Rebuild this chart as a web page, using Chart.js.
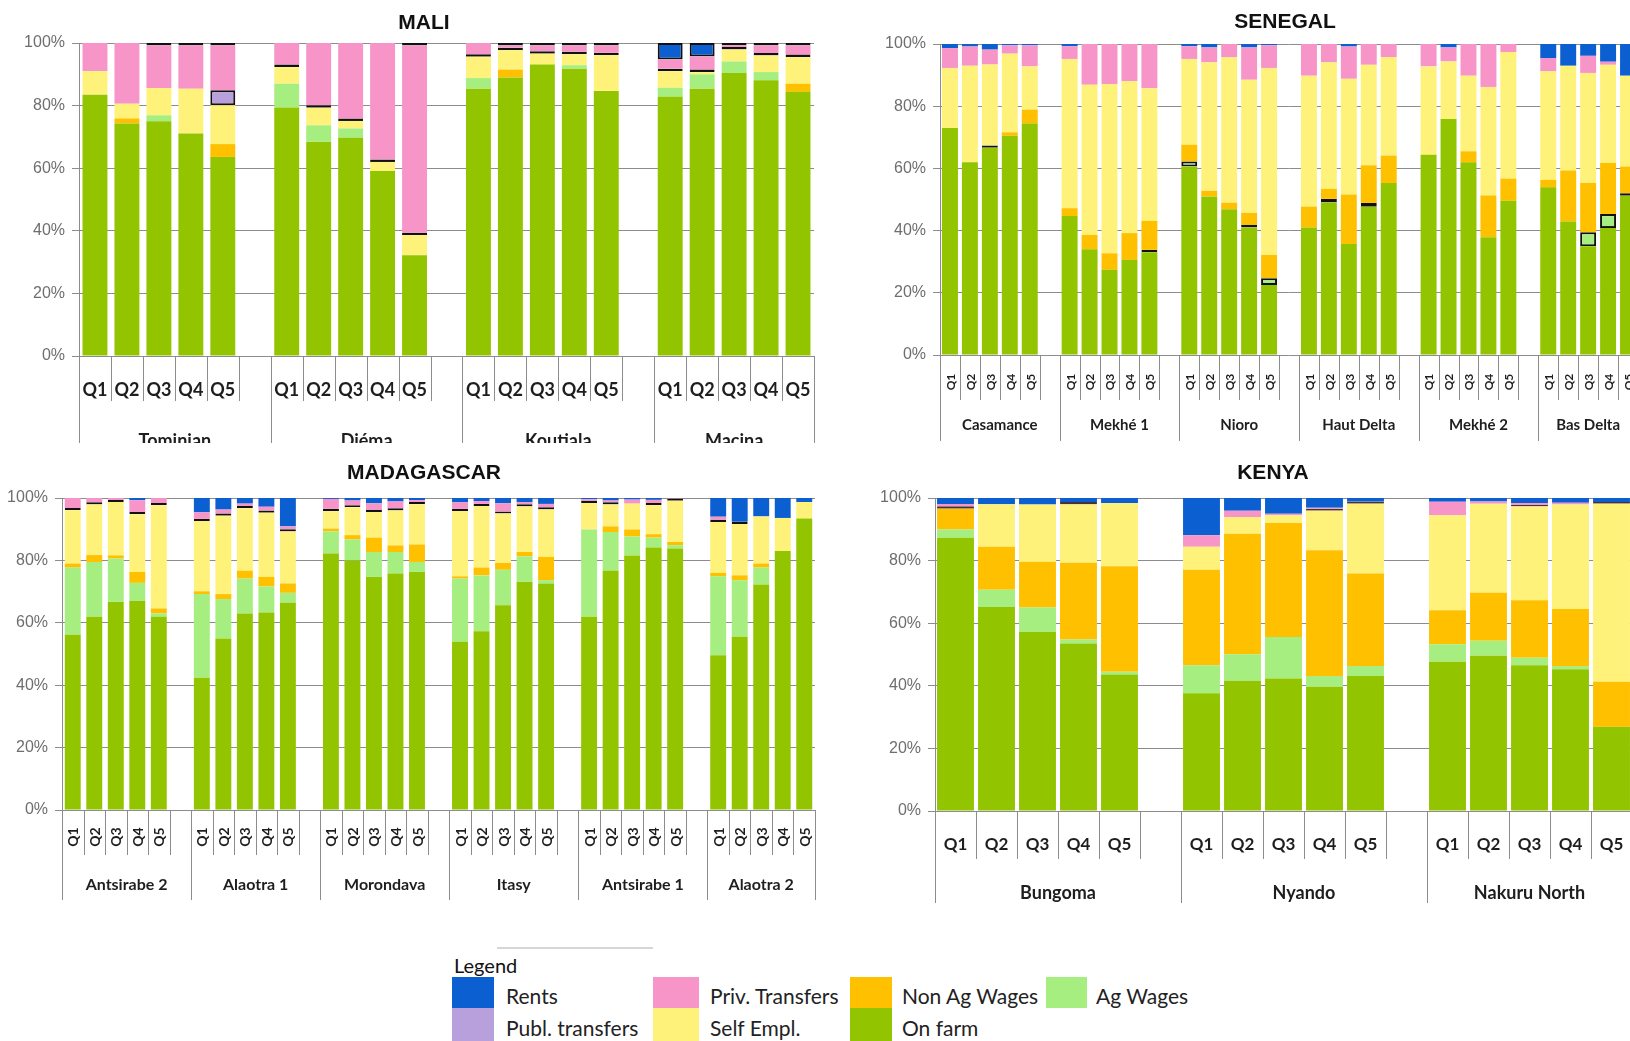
<!DOCTYPE html>
<html>
<head>
<meta charset="utf-8">
<title>Income shares by quintile</title>
<script src="https://cdn.jsdelivr.net/npm/chart.js@4.4.1/dist/chart.umd.min.js"></script>
<style>
  html, body { margin:0; padding:0; background:#fff; }
  body { position:relative; width:1630px; height:1041px; overflow:hidden; }
  canvas { position:absolute; }
  .title { position:absolute; transform:translate(-50%,-50%); font:bold 21px "Liberation Sans", Arial, sans-serif; color:#111; white-space:nowrap; }
  .legend-rule { position:absolute; height:2px; background:#d6d6d6; }
  .legend-head { position:absolute; transform:translateY(-50%); font:20px Lato, sans-serif; color:#111; white-space:nowrap; }
  .swatch { position:absolute; }
  .legend-text { position:absolute; transform:translateY(-50%); font:21px Lato, sans-serif; color:#222; white-space:nowrap; }
</style>
</head>
<body>
<script>
// ---------- categories ----------
const quintiles = ['Q1', 'Q2', 'Q3', 'Q4', 'Q5'];
const seriesLabels = ['On farm', 'Ag Wages', 'Non Ag Wages', 'Self Empl.', 'Publ. transfers', 'Priv. Transfers', 'Rents'];

// ---------- MALI (% of income, per site Q1..Q5) ----------
const maliSites = ['Tominian', 'Diéma', 'Koutiala', 'Macina'];
const maliOnFarm        = [83.5, 74.3, 75.0, 71.1, 63.6,  79.4, 68.4, 69.7, 59.1, 32.2,  85.4, 89.0, 93.1, 91.8, 84.7,  82.8, 85.4, 90.4, 88.1, 84.4];
const maliAgWages       = [0, 0, 1.9, 0, 0,  7.6, 5.3, 3.0, 0, 0,  3.4, 0, 0, 1.1, 0,  2.9, 4.6, 3.7, 2.6, 0];
const maliNonAgWages    = [0, 1.6, 0, 0, 4.1,  0, 0, 0, 0, 0,  0, 2.5, 0, 0, 0,  0, 0, 0, 0, 2.6];
const maliSelfEmpl      = [7.5, 4.7, 8.7, 14.3, 12.4,  5.3, 5.6, 2.4, 2.9, 6.4,  6.8, 6.2, 3.5, 3.5, 11.4,  5.3, 0.7, 3.8, 5.3, 8.5];
const maliPublTransfers = [0, 0, 0, 0, 4.8,  0.8, 0.8, 0.8, 0.8, 0.8,  0.8, 0.8, 0.8, 0.8, 0.8,  0.8, 0.8, 0.8, 0.8, 0.8];
const maliPrivTransfers = [9.0, 19.4, 13.6, 13.8, 14.3,  6.9, 19.9, 24.1, 37.2, 59.8,  3.6, 0.7, 1.8, 2.0, 2.3,  2.9, 4.2, 0.5, 2.4, 2.9];
const maliRents         = [0, 0, 0.8, 0.8, 0.8,  0, 0, 0, 0, 0.8,  0, 0.8, 0.8, 0.8, 0.8,  5.3, 4.3, 0.8, 0.8, 0.8];

// ---------- SENEGAL ----------
const senegalSites = ['Casamance', 'Mekhé 1', 'Nioro', 'Haut Delta', 'Mekhé 2', 'Bas Delta'];
const senOnFarm        = [73.0, 62.0, 66.6, 70.5, 74.4,  44.7, 34.0, 27.4, 30.6, 33.0,  60.6, 51.0, 46.9, 41.0, 22.5,  41.0, 49.0, 35.7, 47.7, 55.3,  64.4, 75.9, 62.0, 37.9, 49.6,  53.9, 42.9, 35.0, 40.8, 51.2];
const senAgWages       = [0, 0, 0.8, 0, 0,  0, 0, 0, 0, 0.8,  1.6, 0, 0, 0.8, 2.2,  0, 1.2, 0, 1.2, 0,  0, 0, 0, 0, 0,  0, 0, 4.5, 4.5, 0.8];
const senNonAgWages    = [0, 0, 0, 1.1, 4.5,  2.5, 4.6, 5.3, 8.6, 9.3,  5.4, 1.8, 2.1, 3.9, 7.5,  6.7, 3.2, 15.9, 12.1, 8.8,  0, 0, 3.5, 13.4, 7.1,  2.4, 16.4, 15.8, 16.4, 8.6];
const senSelfEmpl      = [19.3, 31.0, 26.0, 25.3, 13.9,  48.0, 48.3, 54.4, 48.8, 42.7,  27.6, 41.3, 46.7, 42.8, 60.1,  42.1, 40.7, 37.2, 32.3, 31.7,  28.4, 18.5, 24.3, 34.9, 40.7,  34.9, 33.7, 35.4, 31.6, 29.2];
const senPublTransfers = [0, 0, 0, 0, 0,  0, 0, 0, 0, 0,  0, 0, 0, 0, 0,  0, 0, 0, 0, 0,  0, 0, 0, 0, 0,  0, 0, 0, 0, 0];
const senPrivTransfers = [6.4, 6.2, 4.8, 2.7, 6.8,  4.1, 13.1, 12.9, 12.0, 14.2,  4.1, 4.8, 4.3, 10.4, 7.3,  10.2, 5.9, 10.4, 6.7, 4.2,  7.2, 4.5, 10.2, 13.8, 2.6,  4.3, 0, 5.5, 1.0, 0];
const senRents         = [1.3, 0.8, 1.8, 0.4, 0.4,  0.7, 0, 0, 0, 0,  0.7, 1.1, 0, 1.1, 0.4,  0, 0, 0.8, 0, 0,  0, 1.1, 0, 0, 0,  4.5, 7.0, 3.8, 5.7, 10.2];

// ---------- MADAGASCAR ----------
const madagascarSites = ['Antsirabe 2', 'Alaotra 1', 'Morondava', 'Itasy', 'Antsirabe 1', 'Alaotra 2'];
const madOnFarm        = [56.2, 61.9, 66.7, 67.0, 61.9,  42.4, 55.0, 63.0, 63.3, 66.4,  82.2, 80.0, 74.7, 75.8, 76.3,  53.9, 57.3, 65.6, 73.1, 72.6,  61.9, 76.8, 81.6, 84.1, 83.8,  49.6, 55.5, 72.3, 83.0, 93.4];
const madAgWages       = [21.5, 17.6, 13.9, 5.8, 1.1,  26.8, 12.6, 11.2, 8.4, 3.2,  7.1, 6.7, 8.0, 6.9, 3.2,  20.3, 17.9, 11.4, 8.2, 1.1,  28.0, 12.3, 6.1, 3.2, 1.1,  25.3, 18.1, 5.4, 0, 0];
const madNonAgWages    = [1.3, 2.2, 1.0, 3.5, 1.6,  0.9, 1.6, 2.5, 3.0, 3.0,  0.9, 1.4, 4.6, 2.1, 5.6,  0.7, 2.5, 2.2, 1.4, 7.4,  0, 1.8, 2.2, 1.1, 1.0,  1.1, 1.6, 1.3, 0, 0];
const madSelfEmpl      = [17.1, 16.2, 17.1, 18.5, 33.1,  22.5, 25.1, 20.0, 20.6, 16.7,  5.6, 8.9, 8.2, 11.2, 12.9,  20.9, 19.7, 15.8, 14.6, 15.2,  8.5, 7.0, 8.3, 9.3, 13.2,  16.3, 16.5, 15.1, 10.6, 5.3];
const madPublTransfers = [0.7, 0.7, 0.7, 0.7, 0.7,  0.7, 0.7, 0.7, 0.7, 0.7,  0.7, 0.7, 0.7, 0.7, 0.7,  0.7, 0.7, 0.7, 0.7, 0.7,  0.7, 0.7, 0, 0.7, 0.7,  0.7, 0.7, 0, 0, 0];
const madPrivTransfers = [3.2, 1.4, 0.6, 3.8, 1.6,  2.1, 1.3, 0.8, 1.2, 0.9,  3.2, 1.5, 2.1, 2.2, 0.6,  2.1, 0.9, 2.6, 0.7, 1.1,  0.5, 0.6, 1.3, 1.0, 0.2,  1.0, 0, 0, 0, 0];
const madRents         = [0, 0, 0, 0.7, 0,  4.6, 3.7, 1.8, 2.8, 9.1,  0.3, 0.8, 1.7, 1.1, 0.7,  1.4, 1.0, 1.7, 1.3, 1.9,  0.4, 0.8, 0.5, 0.6, 0,  6.0, 7.6, 5.9, 6.4, 1.3];

// ---------- KENYA ----------
const kenyaSites = ['Bungoma', 'Nyando', 'Nakuru North'];
const kenOnFarm        = [87.3, 65.2, 57.2, 53.5, 43.6,  37.6, 41.6, 42.3, 39.7, 43.1,  47.7, 49.6, 46.6, 45.3, 26.9];
const kenAgWages       = [2.6, 5.5, 7.8, 1.3, 0.9,  9.0, 8.5, 13.3, 3.4, 3.2,  5.6, 4.8, 2.4, 1.0, 0];
const kenNonAgWages    = [6.7, 13.7, 14.6, 24.5, 33.7,  30.5, 38.5, 36.4, 40.2, 29.6,  10.8, 15.3, 18.3, 18.2, 14.4];
const kenSelfEmpl      = [0, 13.6, 18.3, 18.6, 20.2,  7.3, 5.3, 2.5, 12.6, 22.3,  30.4, 28.5, 30.0, 33.4, 56.9];
const kenPublTransfers = [0.8, 0, 0, 0.8, 0,  0, 0, 0, 0.7, 0.7,  0, 0, 0.5, 0, 0.5];
const kenPrivTransfers = [0.7, 0, 0, 0, 0,  3.7, 2.0, 0.5, 0.3, 0,  4.3, 0.7, 0.6, 0.6, 0];
const kenRents         = [1.9, 2.0, 2.1, 1.3, 1.6,  11.9, 4.1, 5.0, 3.1, 1.1,  1.2, 1.1, 1.6, 1.5, 1.3];

// ---------- styling ----------
const seriesColors = ['#92c500', '#a6ee80', '#ffc000', '#fff27a', '#b8a0dc', '#f795c9', '#0c5fd0'];
const lineGrey = '#8c8c8c';

// Category list: five quintiles per site, an empty slot between sites
function buildCategories(sites) {
  const labels = [], groups = [];
  sites.forEach((s, i) => {
    const last = i === sites.length - 1;
    quintiles.forEach(q => labels.push(q));
    if (!last) labels.push('');
    groups.push({ name: s, slots: last ? 5 : 6 });
  });
  return { labels, groups };
}
function spread(values, sites) {
  const out = [];
  sites.forEach((s, i) => {
    for (let k = 0; k < quintiles.length; k++) out.push(values[i * quintiles.length + k]);
    if (i < sites.length - 1) out.push(null);
  });
  return out;
}

// Two-level category axis (quintile row + site row with separators)
const groupedAxis = {
  id: 'groupedAxis',
  afterDraw(chart, _args, o) {
    const { ctx, chartArea } = chart;
    const xs = chart.scales.x;
    const labels = chart.data.labels;
    const half = (xs.getPixelForValue(1) - xs.getPixelForValue(0)) / 2;
    const base = chartArea.bottom;
    const crisp = v => Math.round(v) + 0.5;
    ctx.save();
    ctx.strokeStyle = lineGrey;
    ctx.lineWidth = 1;
    const vline = (px, len) => {
      ctx.beginPath(); ctx.moveTo(crisp(px), base); ctx.lineTo(crisp(px), base + len); ctx.stroke();
    };
    ctx.fillStyle = '#1e1e1e';
    ctx.textAlign = 'center';
    ctx.textBaseline = 'middle';
    let idx = 0;
    o.groups.forEach(g => {
      const start = xs.getPixelForValue(idx) - half;
      const end = xs.getPixelForValue(idx + g.slots - 1) + half;
      vline(start, o.groupSep);
      for (let k = 1; k < g.slots; k++) vline(xs.getPixelForValue(idx + k) - half, o.qSep);
      ctx.font = o.qFont;
      for (let k = 0; k < g.slots; k++) {
        const lab = labels[idx + k];
        if (!lab) continue;
        const cx = xs.getPixelForValue(idx + k);
        const cy = base + o.qOffset;
        if (o.rotate) {
          ctx.save(); ctx.translate(cx, cy); ctx.rotate(-Math.PI / 2); ctx.fillText(lab, 0, 1); ctx.restore();
        } else {
          ctx.fillText(lab, cx, cy);
        }
      }
      ctx.font = o.groupFont;
      ctx.fillText(g.name, (start + end) / 2, base + o.groupOffset);
      idx += g.slots;
    });
    vline(xs.getPixelForValue(idx - 1) + half, o.groupSep);
    ctx.restore();
  }
};

const panels = [
  { title: 'MALI', titleAt: [424, 22], sites: maliSites,
    series: [maliOnFarm, maliAgWages, maliNonAgWages, maliSelfEmpl, maliPublTransfers, maliPrivTransfers, maliRents],
    outline: [4, 6], outlineColor: '#111', outlineWidth: 2,
    box: { left: 0, top: 0, width: 830, height: 443 }, plot: { left: 79, top: 43, right: 814, bottom: 356 },
    barPct: 0.78, axis: { rotate: false, qFont: 'bold 18px Lato', qOffset: 34, qSep: 45, groupFont: 'bold 18px Lato', groupOffset: 85, groupSep: 87 } },
  { title: 'SENEGAL', titleAt: [1285, 21], sites: senegalSites,
    series: [senOnFarm, senAgWages, senNonAgWages, senSelfEmpl, senPublTransfers, senPrivTransfers, senRents],
    outline: [1], outlineColor: '#111', outlineWidth: 2,
    box: { left: 860, top: 0, width: 800, height: 445 }, plot: { left: 940, top: 44, right: 1638, bottom: 355 },
    barPct: 0.8, axis: { rotate: true, qFont: 'bold 12px Lato', qOffset: 27, qSep: 45, groupFont: 'bold 15px Lato', groupOffset: 70, groupSep: 86 } },
  { title: 'MADAGASCAR', titleAt: [424, 472], sites: madagascarSites,
    series: [madOnFarm, madAgWages, madNonAgWages, madSelfEmpl, madPublTransfers, madPrivTransfers, madRents],
    outline: [4], outlineColor: '#111', outlineWidth: 2,
    box: { left: 0, top: 450, width: 830, height: 455 }, plot: { left: 62, top: 498, right: 815, bottom: 810 },
    barPct: 0.74, axis: { rotate: true, qFont: 'bold 14px Lato', qOffset: 27, qSep: 45, groupFont: 'bold 16px Lato', groupOffset: 75, groupSep: 90 } },
  { title: 'KENYA', titleAt: [1273, 472], sites: kenyaSites,
    series: [kenOnFarm, kenAgWages, kenNonAgWages, kenSelfEmpl, kenPublTransfers, kenPrivTransfers, kenRents],
    outline: [4], outlineColor: '#4a3232', outlineWidth: 2,
    box: { left: 860, top: 450, width: 800, height: 460 }, plot: { left: 935, top: 498, right: 1632, bottom: 811 },
    barPct: 0.9, axis: { rotate: false, qFont: 'bold 17px Lato', qOffset: 34, qSep: 48, groupFont: 'bold 18px Lato', groupOffset: 82, groupSep: 92 } }
];

function makePanel(p) {
  const cat = buildCategories(p.sites);
  const canvas = document.createElement('canvas');
  canvas.width = p.box.width;
  canvas.height = p.box.height;
  canvas.style.left = p.box.left + 'px';
  canvas.style.top = p.box.top + 'px';
  document.body.appendChild(canvas);

  const title = document.createElement('div');
  title.className = 'title';
  title.textContent = p.title;
  title.style.left = p.titleAt[0] + 'px';
  title.style.top = p.titleAt[1] + 'px';
  document.body.appendChild(title);

  const datasets = seriesLabels.map((label, i) => {
    const outlined = p.outline.includes(i);
    return {
      label,
      data: spread(p.series[i], p.sites),
      backgroundColor: seriesColors[i],
      borderColor: p.outlineColor,
      borderWidth: c => (outlined && c.raw > 0) ? p.outlineWidth : 0,
      borderSkipped: false,
      barPercentage: p.barPct,
      categoryPercentage: 1,
      stack: 'income'
    };
  });

  new Chart(canvas, {
    type: 'bar',
    data: { labels: cat.labels, datasets },
    options: {
      responsive: false,
      animation: false,
      devicePixelRatio: 1,
      layout: { padding: { top: p.plot.top - p.box.top, right: p.box.left + p.box.width - p.plot.right, left: 0, bottom: 0 } },
      plugins: {
        legend: { display: false },
        tooltip: { enabled: false },
        groupedAxis: Object.assign({ groups: cat.groups }, p.axis)
      },
      scales: {
        x: {
          stacked: true, offset: true,
          grid: { display: false }, border: { display: false }, ticks: { display: false },
          afterFit: s => { s.height = p.box.top + p.box.height - p.plot.bottom; }
        },
        y: {
          stacked: true, min: 0, max: 100,
          grid: { color: lineGrey, tickLength: 7 },
          border: { color: lineGrey },
          ticks: {
            stepSize: 20, padding: 7, color: '#6e6e6e',
            font: { family: "'Liberation Sans', Arial, sans-serif", size: 16 },
            callback: v => v + '%'
          },
          afterFit: s => { s.width = p.plot.left - p.box.left; }
        }
      }
    },
    plugins: [groupedAxis]
  });
}
panels.forEach(makePanel);

// ---------- shared legend ----------
const legendLayout = [
  { series: 6, left: 452, top: 977, w: 42, h: 31, textLeft: 506 },
  { series: 4, left: 452, top: 1008, w: 42, h: 33, textLeft: 506 },
  { series: 5, left: 653, top: 977, w: 46, h: 31, textLeft: 710 },
  { series: 3, left: 653, top: 1008, w: 46, h: 33, textLeft: 710 },
  { series: 2, left: 850, top: 977, w: 42, h: 31, textLeft: 902 },
  { series: 0, left: 850, top: 1008, w: 42, h: 33, textLeft: 902 },
  { series: 1, left: 1046, top: 977, w: 41, h: 31, textLeft: 1096 }
];
(function drawLegend() {
  const rule = document.createElement('div');
  rule.className = 'legend-rule';
  Object.assign(rule.style, { left: '497px', top: '947px', width: '156px' });
  document.body.appendChild(rule);
  const head = document.createElement('div');
  head.className = 'legend-head';
  head.textContent = 'Legend';
  Object.assign(head.style, { left: '454px', top: '965px' });
  document.body.appendChild(head);
  legendLayout.forEach(it => {
    const sw = document.createElement('div');
    sw.className = 'swatch';
    Object.assign(sw.style, { left: it.left + 'px', top: it.top + 'px', width: it.w + 'px', height: it.h + 'px', background: seriesColors[it.series] });
    document.body.appendChild(sw);
    const tx = document.createElement('div');
    tx.className = 'legend-text';
    tx.textContent = seriesLabels[it.series];
    Object.assign(tx.style, { left: it.textLeft + 'px', top: (it.top + it.h / 2 + 2) + 'px' });
    document.body.appendChild(tx);
  });
})();
</script>
</body>
</html>
